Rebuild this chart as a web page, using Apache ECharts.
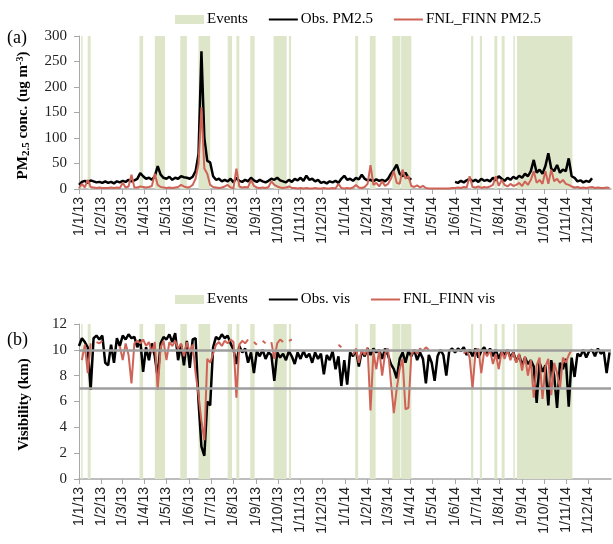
<!DOCTYPE html>
<html>
<head>
<meta charset="utf-8">
<script src="https://cdn.jsdelivr.net/npm/echarts@6.0.0/dist/echarts.min.js"></script>
<style>
html,body{margin:0;padding:0;background:#fff;}
#chart{width:613px;height:544px;}
</style>
</head>
<body>
<div id="chart"></div>
<script>
// ---------------- DATA ----------------
// daily axis: day 0 = 1 Jan 2013, one value every STEP days
const STEP = 4;
const monthLabels = ['1/1/13','1/2/13','1/3/13','1/4/13','1/5/13','1/6/13','1/7/13','1/8/13','1/9/13','1/10/13','1/11/13','1/12/13',
  '1/1/14','1/2/14','1/3/14','1/4/14','1/5/14','1/6/14','1/7/14','1/8/14','1/9/14','1/10/14','1/11/14','1/12/14'];

// event periods [startDay, endDay]
const events = [[3,4],[12,15],[83,87],[104,117],[139,147],[164,179],[204,209],[216,219],[235,240],[267,284],[288,290],
  [379,382],[399,406],[430,440],[442,455],[538,540],[550,552],[570,573],[580,583],[596,597],[601,676]];

const obsPM = [
  8,14,16,12,17,15,13,14,12,15,
  12,14,11,15,13,16,14,18,15,17,
  20,31,25,20,22,18,25,45,28,22,
  20,24,18,22,20,25,23,22,20,24,
  35,68,270,100,55,52,25,18,20,15,
  18,15,20,13,22,16,14,18,15,22,
  17,14,18,15,13,16,20,18,22,17,
  15,13,18,14,20,17,22,16,26,18,
  20,15,18,12,14,11,15,13,16,12,
  20,26,18,20,16,22,19,28,20,17,
  18,15,19,16,18,15,20,30,38,48,
  30,25,32,22,18,null,null,null,null,null,
  null,null,null,null,null,null,null,null,null,14,
  12,16,13,17,20,15,18,14,20,16,
  18,15,22,17,25,20,16,22,18,24,
  20,26,22,30,25,35,57,32,38,30,
  45,70,40,35,47,32,38,35,60,25,
  22,15,17,13,16,14,21,null,null,null,
  null,null,null
];
const fnlPM = [
  2,10,3,18,4,3,2,3,2,2,
  2,3,2,3,2,12,3,5,28,3,
  3,5,4,3,4,6,30,8,4,3,
  2,3,2,3,4,8,5,3,4,8,
  20,50,160,40,30,8,4,3,2,3,
  5,8,3,2,40,5,3,4,3,18,
  6,3,2,3,2,4,15,8,5,3,
  2,3,5,2,2,1,2,1,2,1,
  1,2,1,1,2,1,1,2,1,10,
  2,1,2,1,3,8,3,2,4,10,
  47,8,12,5,15,6,10,20,35,12,
  10,38,20,25,6,4,7,3,6,2,
  1,1,1,1,1,1,1,1,2,2,
  3,2,4,3,25,4,3,5,2,4,
  3,5,8,25,6,18,8,5,10,6,
  8,12,6,15,8,18,35,12,18,10,
  35,10,38,15,20,12,18,10,8,5,
  3,4,2,3,2,3,4,2,3,2,
  2,3,2
];
const obsVis = [
  10.3,10.9,10.6,10.2,6.9,10.9,11.1,10.8,11.1,9.0,
  8.8,10.4,9.0,10.9,10.3,11.1,10.8,11.2,10.9,11.0,
  10.2,10.8,8.3,10.2,9.2,10.5,9.5,7.9,10.5,11.0,
  10.8,11.2,10.6,11.3,9.2,10.4,8.8,10.7,8.6,10.8,
  10.9,6.0,2.5,1.8,6.0,5.7,10.2,11.0,10.8,11.2,
  10.9,11.1,10.5,10.0,8.9,10.3,9.8,10.1,9.0,9.8,
  8.2,9.9,9.5,10.0,9.3,9.8,9.6,7.6,9.8,9.4,
  9.7,9.2,9.9,9.5,8.9,9.8,9.3,9.9,9.4,9.7,
  9.0,9.8,9.3,9.7,8.1,9.6,9.2,9.9,8.5,9.5,
  7.2,9.2,7.3,9.8,9.5,10.0,8.7,9.9,9.5,10.1,
  9.6,10.1,9.8,10.0,9.3,10.1,9.6,8.9,8.5,7.8,
  9.3,9.8,9.0,9.9,9.5,10.0,9.2,9.8,9.3,7.4,
  9.6,9.0,7.6,9.5,10.0,9.6,8.0,9.9,10.1,9.8,
  10.1,9.9,10.2,9.6,10.0,9.5,10.1,9.4,9.9,10.2,
  9.7,10.1,9.5,10.0,9.3,9.9,9.6,10.0,9.4,9.8,
  9.1,9.6,8.8,9.4,8.9,9.2,8.7,5.9,9.0,8.3,
  8.8,5.7,9.2,8.0,5.5,9.0,8.5,9.3,5.6,9.4,
  7.9,9.7,9.5,10.0,9.4,9.9,10.0,9.5,10.1,9.7,
  9.9,8.2,9.8
];
const fnlVis = [
  null,9.2,10.4,8.2,10.5,null,10.6,10.5,10.7,null,
  null,null,null,null,10.3,9.2,10.5,9.6,7.4,10.5,
  10.7,10.5,10.8,10.3,10.6,9.8,10.6,6.9,10.2,10.7,
  9.2,10.6,10.3,10.7,10.1,10.5,9.5,10.6,9.8,10.4,
  8.2,6.5,4.5,3.0,9.3,9.0,9.7,10.4,10.6,10.3,
  10.7,10.5,10.8,10.6,6.3,10.4,10.7,10.5,10.8,null,
  10.6,10.4,null,10.7,10.5,null,10.6,9.3,10.5,10.8,
  10.6,null,10.7,10.8,null,null,null,null,null,null,
  null,null,null,null,null,null,null,null,null,10.4,
  10.2,null,null,null,9.6,10.1,9.0,10.0,9.6,10.2,
  5.3,9.8,8.5,10.0,8.0,9.7,10.1,7.5,5.1,7.0,
  8.5,9.3,5.4,5.5,9.6,10.0,9.7,10.1,9.9,10.2,
  10.0,null,null,null,null,null,null,null,null,null,
  null,null,9.7,10.0,9.4,7.0,9.8,10.1,8.2,9.9,
  9.5,10.0,8.9,9.7,8.5,9.9,9.3,10.0,9.2,9.8,
  9.0,9.7,8.4,9.5,8.0,9.2,6.3,8.8,9.4,6.2,
  8.7,9.3,6.5,9.0,8.2,7.0,9.4,9.0,9.6,10.0,
  null,null,null,null,null,null,null,null,null,null,
  null,null,null
];
const visRefLines = [10, 7];

// ---------------- CHART ----------------
const DAY0 = Date.UTC(2013,0,1);
const monthDays = monthLabels.map((_, k) => (Date.UTC(2013 + Math.floor(k/12), k % 12, 1) - DAY0) / 86400000);
const toPairs = arr => arr.map((v, i) => [i * STEP, v]);

const GREEN = '#dde6c8';
const RED = '#cf6357';
const AXIS = '#a8a8a8';
const SERIF = '"Liberation Serif", "DejaVu Serif", serif';
const SANS = '"Liberation Sans", Arial, sans-serif';

function xAxisFor(gi) {
  return {
    type: 'value', gridIndex: gi, min: 0, max: 730,
    axisLine: { show: true, lineStyle: { color: AXIS, width: 1.5 } },
    axisTick: { show: true, customValues: monthDays, length: 5, lineStyle: { color: AXIS } },
    axisLabel: {
      customValues: monthDays, rotate: 90, fontFamily: SANS, fontSize: 14, color: '#222', margin: 8,
      formatter: v => { const k = monthDays.indexOf(Math.round(v)); return k >= 0 ? monthLabels[k] : ''; }
    },
    splitLine: { show: false }
  };
}
function yAxisFor(gi, max, interval, name, rich) {
  return {
    type: 'value', gridIndex: gi, min: 0, max: max, interval: interval,
    name: name, nameLocation: 'middle', nameRotate: 90, nameGap: 47,
    nameTextStyle: { fontFamily: SERIF, fontWeight: 'bold', fontSize: 15, color: '#000', padding: [0, 6, 0, 0], rich: rich },
    axisLine: { show: true, lineStyle: { color: AXIS, width: 1 } },
    axisTick: { show: true, length: 5, lineStyle: { color: AXIS } },
    axisLabel: { fontFamily: SERIF, fontSize: 15, color: '#222', margin: 12 },
    splitLine: { show: false }
  };
}
const eventAreas = events.map(e => [{ xAxis: e[0] }, { xAxis: e[1] + 1 }]);

function eventsSeries(gi, extra) {
  const s = {
    name: 'Events', type: 'line', xAxisIndex: gi, yAxisIndex: gi, data: [],
    symbol: 'none', itemStyle: { color: GREEN }, lineStyle: { color: GREEN },
    markArea: { silent: true, itemStyle: { color: GREEN }, data: eventAreas }
  };
  return Object.assign(s, extra || {});
}
function lineSeries(name, gi, arr, color, width) {
  return {
    name: name, type: 'line', xAxisIndex: gi, yAxisIndex: gi, data: toPairs(arr),
    symbol: 'none', showSymbol: false, connectNulls: false,
    lineStyle: { color: color, width: width }, itemStyle: { color: color }, animation: false
  };
}
const noSym = name => ({ name: name, itemStyle: { opacity: 0 } });

const legendBase = {
  left: 170, itemWidth: 29, itemHeight: 9, itemGap: 20,
  textStyle: { fontFamily: SERIF, fontSize: 15, color: '#000', padding: [0,0,0,-2] }
};

const chart = echarts.init(document.getElementById('chart'), null, { renderer: 'canvas' });
chart.setOption({
  animation: false,
  backgroundColor: '#fff',
  grid: [
    { left: 79, top: 36, width: 532, height: 153 },
    { left: 79, top: 324, width: 532, height: 155 }
  ],
  legend: [
    Object.assign({}, legendBase, { top: 7, data: [{ name: 'Events', icon: 'rect' }, noSym('Obs. PM2.5'), noSym('FNL_FINN PM2.5')] }),
    Object.assign({}, legendBase, { top: 287, data: [{ name: 'Events', icon: 'rect' }, noSym('Obs. vis'), noSym('FNL_FINN vis')] })
  ],
  graphic: [
    { type: 'text', left: 7, top: 29, style: { text: '(a)', font: '18px ' + SERIF, fill: '#000' } },
    { type: 'text', left: 7, top: 331, style: { text: '(b)', font: '18px ' + SERIF, fill: '#000' } }
  ],
  xAxis: [xAxisFor(0), xAxisFor(1)],
  yAxis: [
    yAxisFor(0, 300, 50, 'PM{sub|2.5} conc. (ug m{sup|-3})', {
      sub: { fontFamily: SERIF, fontWeight: 'bold', fontSize: 11, verticalAlign: 'bottom', padding: [6, 0, 0, 0] },
      sup: { fontFamily: SERIF, fontWeight: 'bold', fontSize: 10, verticalAlign: 'top', padding: [0, 0, 7, 0] }
    }),
    yAxisFor(1, 12, 2, 'Visibility (km)', {})
  ],
  series: [
    eventsSeries(0),
    lineSeries('Obs. PM2.5', 0, obsPM, '#000', 2.5),
    lineSeries('FNL_FINN PM2.5', 0, fnlPM, RED, 2),
    eventsSeries(1, {
      markLine: {
        silent: true, symbol: 'none', label: { show: false },
        lineStyle: { color: '#9e9e9e', width: 2.5, type: 'solid' },
        data: visRefLines.map(v => ({ yAxis: v }))
      }
    }),
    lineSeries('Obs. vis', 1, obsVis, '#000', 2.5),
    lineSeries('FNL_FINN vis', 1, fnlVis, RED, 2)
  ]
});
</script>
</body>
</html>
